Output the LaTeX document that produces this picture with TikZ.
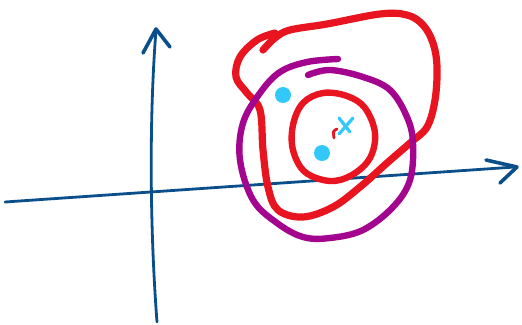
\documentclass[tikz,border=0pt]{standalone}
\definecolor{axisblue}{HTML}{0B4F8A}
\definecolor{inkred}{HTML}{E8141F}
\definecolor{inkpurple}{HTML}{A3058E}
\definecolor{inkcyan}{HTML}{33C8FA}
\tikzset{
  axisline/.style={axisblue,line width=2.8pt},
  redink/.style={inkred,line width=7.2pt},
  purpleink/.style={inkpurple,line width=6.4pt},
}
\begin{document}
\begin{tikzpicture}[x=1pt,y=-1pt,line cap=round,line join=round]
    \useasboundingbox (0,0) rectangle (522,324);
    % axes
    \draw[axisline] (5,202) -- (515,167);
    \draw[axisline,line width=3.6pt] (486,160) -- (517,167) -- (500,183);
    \draw[axisline] (157,322) .. controls (150,230) and (149,120) .. (156,30);
    \draw[axisline,line width=3.6pt] (143,53) -- (156,29) -- (170,47);
    % outer red loop
    \draw[redink] plot[smooth,tension=.6] coordinates {
      (263,50) (275,38) (290,30) (327,24) (380,14) (407,15) (423,25)
      (433,43) (437,67) (435,100) (427,127) (410,143) (387,163)
      (360,187) (333,207) (303,217) (278,210) (268,187) (263,150)
      (260,110) (247,93) (236,77) (240,57) (257,40) (275,33)};
    % purple circle
    \draw[purpleink] plot[smooth,tension=.6] coordinates {
      (308,75) (330,70) (363,77) (390,90) (407,117) (413,143)
      (410,180) (393,207) (363,230) (330,238) (303,237) (277,223)
      (253,200) (240,160) (243,123) (260,93) (280,72) (307,62) (338,59)};
    % inner red circle
    \draw[redink,line width=6.4pt] plot[smooth cycle,tension=.6] coordinates {
      (323,93) (347,96) (365,108) (375,133) (370,158) (352,175)
      (330,181) (305,172) (293,150) (293,125) (303,103)};
    % points
    \fill[inkcyan] (283,95) circle[radius=8];
    \fill[inkcyan] (322,153) circle[radius=8];
    \draw[inkcyan,line width=3.2pt] (339,118) -- (350,132);
    \draw[inkcyan,line width=3.2pt] (353,118) -- (339,134);
    \draw[inkred,line width=2.8pt] (337,129) .. controls (333,131) .. (334,138);
  \end{tikzpicture}
\end{document}
